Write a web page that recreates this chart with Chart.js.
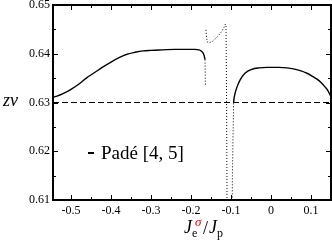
<!DOCTYPE html>
<html>
<head>
<meta charset="utf-8">
<script src="https://cdn.jsdelivr.net/npm/chart.js@4/dist/chart.umd.min.js"></script>
<style>
  html, body { margin: 0; padding: 0; background: #fff; }
</style>
</head>
<body>
<canvas id="padeChart" width="332" height="241"></canvas>
<script>
// solid branch left of the pole
const leftX = [-0.545, -0.535, -0.52, -0.50, -0.48, -0.46, -0.44, -0.42, -0.40, -0.38, -0.36, -0.34, -0.32, -0.30, -0.27, -0.24, -0.21, -0.19, -0.18, -0.175, -0.170, -0.167, -0.165];
const leftY = [0.6311, 0.6313, 0.6318, 0.6327, 0.6338, 0.6351, 0.6362, 0.6373, 0.6383, 0.6392, 0.6399, 0.6403, 0.6406, 0.6407, 0.6408, 0.6409, 0.6409, 0.6409, 0.6408, 0.6406, 0.6402, 0.6396, 0.6388];

// dotted part around the poles (null = break)
const poleX = [-0.165, -0.1645, -0.164, -0.1632, -0.1625, -0.161, -0.159, -0.155, -0.145, -0.135, -0.125, -0.118, -0.114, -0.1125, -0.111, -0.1095, -0.0975, -0.0965, -0.0935];
const poleY = [0.6388, 0.6360, 0.6336, null, 0.6449, 0.6432, 0.6424, 0.6422, 0.6426, 0.6434, 0.6444, 0.6453, 0.6461, 0.6458, 0.6300, 0.6000, 0.6000, 0.6150, 0.6300];

// solid branch right of the pole
const rightX = [-0.0935, -0.0925, -0.09, -0.0858, -0.0775, -0.065, -0.048, -0.03, -0.01, 0.02, 0.04, 0.056, 0.075, 0.09, 0.105, 0.115, 0.125, 0.135, 0.1425, 0.15];
const rightY = [0.6300, 0.6308, 0.6318, 0.6330, 0.6346, 0.6360, 0.6368, 0.6371, 0.6372, 0.6372, 0.6371, 0.6369, 0.6365, 0.6360, 0.6353, 0.6348, 0.6341, 0.6332, 0.6324, 0.6312];

// reference value
const refX = [-0.545, 0.15];
const refY = [0.63, 0.63];

const xMajor = [-0.5, -0.4, -0.3, -0.2, -0.1, 0, 0.1];
const xMinor = [-0.45, -0.35, -0.25, -0.15, -0.05, 0.05];
const yMajor = [0.61, 0.62, 0.63, 0.64, 0.65];
const yMinor = [0.615, 0.625, 0.635, 0.645];

const legendText = "Padé [4, 5]";

function pts(xs, ys) {
  return xs.map((x, i) => ({ x: x, y: ys[i] }));
}

const serif = "'Liberation Serif'";

const framePlugin = {
  id: "frame",
  afterDatasetsDraw(chart) {
    const { ctx, chartArea: a, scales } = chart;
    ctx.save();
    ctx.strokeStyle = "#000";
    ctx.lineWidth = 2;
    ctx.strokeRect(a.left, a.top, a.right - a.left, a.bottom - a.top);
    ctx.lineWidth = 1;
    ctx.beginPath();
    const tx = (vals, len) => vals.forEach((v) => {
      const p = Math.round(scales.x.getPixelForValue(v)) + 0.5;
      ctx.moveTo(p, a.bottom); ctx.lineTo(p, a.bottom - len);
      ctx.moveTo(p, a.top); ctx.lineTo(p, a.top + len);
    });
    const ty = (vals, len) => vals.forEach((v) => {
      const p = Math.round(scales.y.getPixelForValue(v)) + 0.5;
      ctx.moveTo(a.left, p); ctx.lineTo(a.left + len, p);
      ctx.moveTo(a.right, p); ctx.lineTo(a.right - len, p);
    });
    tx(xMajor, 5); tx(xMinor, 3);
    ty(yMajor, 5); ty(yMinor, 3);
    ctx.stroke();

    // legend inside the plot
    ctx.lineWidth = 2;
    ctx.beginPath();
    ctx.moveTo(88, 153); ctx.lineTo(94, 153);
    ctx.stroke();
    ctx.fillStyle = "#000";
    ctx.textAlign = "left";
    ctx.textBaseline = "alphabetic";
    ctx.font = "19px " + serif;
    ctx.fillText(legendText, 101, 159);

    // axis titles
    ctx.font = "italic 18px " + serif;
    ctx.fillText("zν", 3, 106);

    ctx.fillText("J", 184, 233);
    ctx.font = "12px " + serif;
    ctx.fillText("e", 192, 237);
    ctx.fillStyle = "#e00000";
    ctx.font = "italic 13px " + serif;
    ctx.fillText("σ", 195, 226);
    ctx.fillStyle = "#000";
    ctx.font = "18px " + serif;
    ctx.fillText("/", 203, 234);
    ctx.font = "italic 18px " + serif;
    ctx.fillText("J", 209, 233);
    ctx.font = "12px " + serif;
    ctx.fillText("p", 217, 237);
    ctx.restore();
  },
};

new Chart(document.getElementById("padeChart").getContext("2d"), {
  type: "line",
  data: {
    datasets: [
      {
        label: legendText,
        data: pts(leftX, leftY),
        borderColor: "#000",
        borderWidth: 1.4,
        cubicInterpolationMode: "monotone",
      },
      {
        label: "pole",
        data: pts(poleX, poleY),
        borderColor: "#000",
        borderWidth: 1,
        borderDash: [1, 2],
        spanGaps: false,
        tension: 0,
      },
      {
        label: "right",
        data: pts(rightX, rightY),
        borderColor: "#000",
        borderWidth: 1.4,
        cubicInterpolationMode: "monotone",
      },
      {
        label: "ref",
        data: pts(refX, refY),
        borderColor: "#000",
        borderWidth: 1,
        borderDash: [6, 3],
      },
    ],
  },
  options: {
    responsive: false,
    devicePixelRatio: 1,
    animation: false,
    layout: { padding: { left: 0, right: 1, top: 0, bottom: 0 } },
    elements: { point: { radius: 0 } },
    scales: {
      x: {
        type: "linear",
        min: -0.545,
        max: 0.15,
        grid: { display: false, drawTicks: false },
        border: { display: false },
        ticks: {
          stepSize: 0.1,
          includeBounds: false,
          padding: 4,
          color: "#000",
          font: { family: serif, size: 12 },
          callback: (v) => (Math.abs(v) < 1e-9 ? "0" : v.toFixed(1)),
        },
        afterFit: (s) => { s.height = 41; s.paddingLeft = 0; s.paddingRight = 0; },
      },
      y: {
        min: 0.61,
        max: 0.65,
        grid: { display: false, drawTicks: false },
        border: { display: false },
        ticks: {
          stepSize: 0.01,
          padding: 3,
          color: "#000",
          font: { family: serif, size: 12 },
          callback: (v) => v.toFixed(2),
        },
        afterFit: (s) => { s.width = 53; s.paddingTop = 5; s.paddingBottom = 0; },
      },
    },
    plugins: {
      legend: { display: false },
      tooltip: { enabled: false },
    },
  },
  plugins: [framePlugin],
});
</script>
</body>
</html>
